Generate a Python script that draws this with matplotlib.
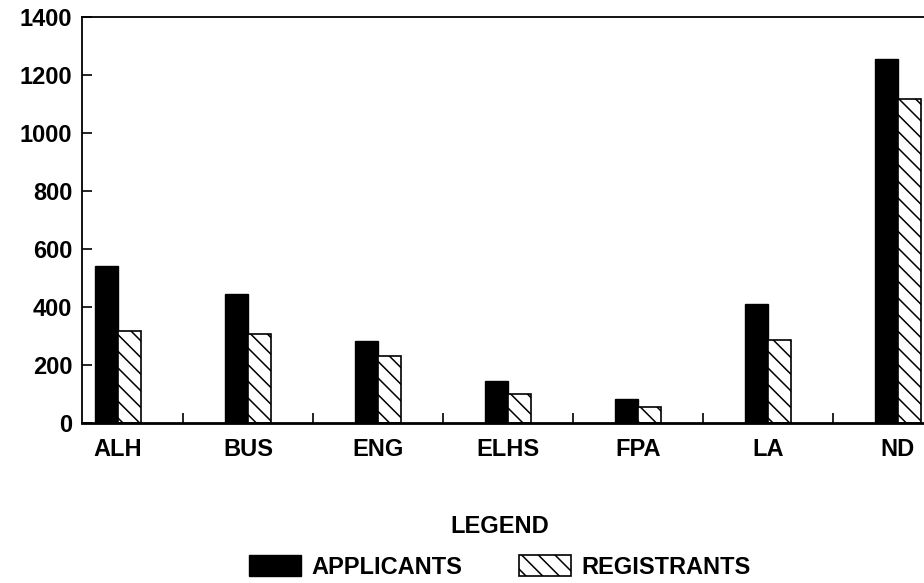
import numpy as np
import matplotlib.pyplot as plt

plt.rcParams['font.family'] = ['Liberation Sans', 'DejaVu Sans']

# Data
schools = ["ALH", "BUS", "ENG", "ELHS", "FPA", "LA", "ND"]
applicants = [541, 445, 284, 146, 83, 410, 1254]
registrants = [318, 307, 231, 101, 54, 286, 1116]
y_ticks = [0, 200, 400, 600, 800, 1000, 1200, 1400]

fig = plt.figure(figsize=(9.24, 5.83), dpi=100)
ax = fig.add_axes([0.0887, 0.2744, 0.9113, 0.6964])

x = np.arange(len(schools))
w = 0.177
plt.rcParams['hatch.linewidth'] = 1.1
b1 = ax.bar(x - w / 2, applicants, w, color='black', edgecolor='black',
            label='APPLICANTS')
b2 = ax.bar(x + w / 2, registrants, w, color='white', edgecolor='black',
            hatch='\\\\', linewidth=1.2, label='REGISTRANTS')

ax.set_xlim(-0.277, 6.2)
ax.set_ylim(0, 1400)

# boundary ticks (major) and centred labels (minor)
ax.set_xticks(x[:-1] + 0.5)
ax.set_xticklabels([])
ax.set_xticks(x, minor=True)
ax.set_xticklabels(schools, minor=True, fontsize=17, fontweight='bold')
ax.tick_params(axis='x', which='major', direction='in', length=7, width=1.2)
ax.tick_params(axis='x', which='minor', length=0, pad=11)

ax.set_yticks(y_ticks)
ax.set_yticklabels([str(v) for v in y_ticks], fontsize=17, fontweight='bold')
ax.tick_params(axis='y', direction='in', length=7, width=1.2, pad=7)

ax.spines['right'].set_visible(False)
ax.spines['top'].set_linewidth(1.3)
ax.spines['left'].set_linewidth(1.3)
ax.spines['bottom'].set_linewidth(2.0)

leg = fig.legend(handles=[b1, b2], loc='upper center', bbox_to_anchor=(0.541, 0.116),
                 ncol=2, frameon=False, title='LEGEND', borderpad=0, borderaxespad=0,
                 prop={'size': 17, 'weight': 'bold'},
                 title_fontproperties={'size': 17, 'weight': 'bold'},
                 handlelength=2.2, handleheight=1.0, handletextpad=0.45,
                 columnspacing=2.4)
leg._legend_box.sep = 12

fig.savefig('out.png', dpi=100)
